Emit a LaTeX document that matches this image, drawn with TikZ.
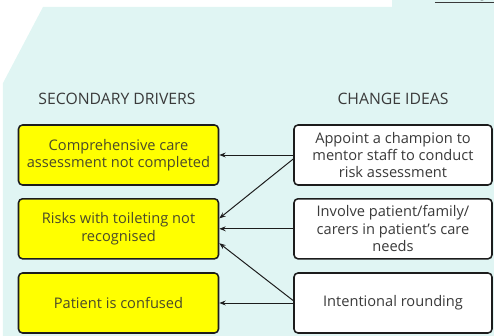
\documentclass[tikz,border=0pt]{standalone}
\usepackage{fontspec}
\setmainfont{Open Sans}
\usepackage{xcolor}
\usetikzlibrary{arrows.meta,positioning,calc}
\definecolor{paperink}{HTML}{1C1C1C}
\definecolor{softcyan}{HTML}{E0F5F3}
\definecolor{driveryellow}{HTML}{FFFF00}
\definecolor{drivertext}{HTML}{4A4A2A}
\definecolor{ideatext}{HTML}{3A3A3A}

\begin{document}
\begin{tikzpicture}[
  driver/.style={draw=paperink,fill=driveryellow,line width=1.1pt,
    rounded corners=1mm,minimum width=5.0cm,minimum height=1.5cm,
    align=center,text=drivertext,font=\fontsize{10.4}{12.4}\selectfont},
  idea/.style={draw=paperink,fill=white,line width=1.1pt,
    rounded corners=1mm,minimum width=4.95cm,minimum height=1.5cm,
    align=center,text=ideatext,font=\fontsize{10.4}{12.4}\selectfont},
  heading/.style={font=\fontsize{11.2}{13}\selectfont,text=ideatext},
  arr/.style={-{Stealth[length=1.6mm,width=1.2mm]},line width=0.7pt,paperink}
]
  \useasboundingbox (0,0) rectangle (12.35,8.4);
  \fill[softcyan] (1.075,8.225) -- (9.8,8.225) -- (9.8,8.4) -- (12.35,8.4)
    -- (12.35,0) -- (0.075,0) -- (0.075,6.325) -- cycle;
  \node[anchor=base west,font=\scriptsize,text=ideatext] (diag)
    at (10.75,8.44) {\underline{Driver diagram}};

  \node[heading] (secondary) at (2.925,5.925) {SECONDARY DRIVERS};
  \node[heading] (change) at (9.825,5.925) {CHANGE IDEAS};

  % secondary drivers
  \node[driver] (assess) at (2.9625,4.525)
    {Comprehensive care\\assessment not completed};
  \node[driver] (toilet) at (2.9625,2.68)
    {Risks with toileting not\\recognised};
  \node[driver] (confused) at (2.9625,0.825) {Patient is confused};

  % change ideas
  \node[idea] (champion) at (9.825,4.525)
    {Appoint a champion to\\mentor staff to conduct\\risk assessment};
  \node[idea] (involve) at (9.825,2.68)
    {Involve patient/family/\\carers in patient's care\\needs};
  \node[idea] (rounding) at (9.825,0.825) {Intentional rounding};

  \draw[arr] (champion) -- (assess);
  \draw[arr] ([yshift=-1mm]champion.west) -- ([yshift=2.6mm]toilet.east);
  \draw[arr] (involve.west) -- (toilet.east -| involve.west) -- (toilet.east);
  \draw[arr] ([yshift=0.6mm]rounding.west) -- ([yshift=-3.6mm]toilet.east);
  \draw[arr] (rounding) -- (confused);
\end{tikzpicture}
\end{document}
